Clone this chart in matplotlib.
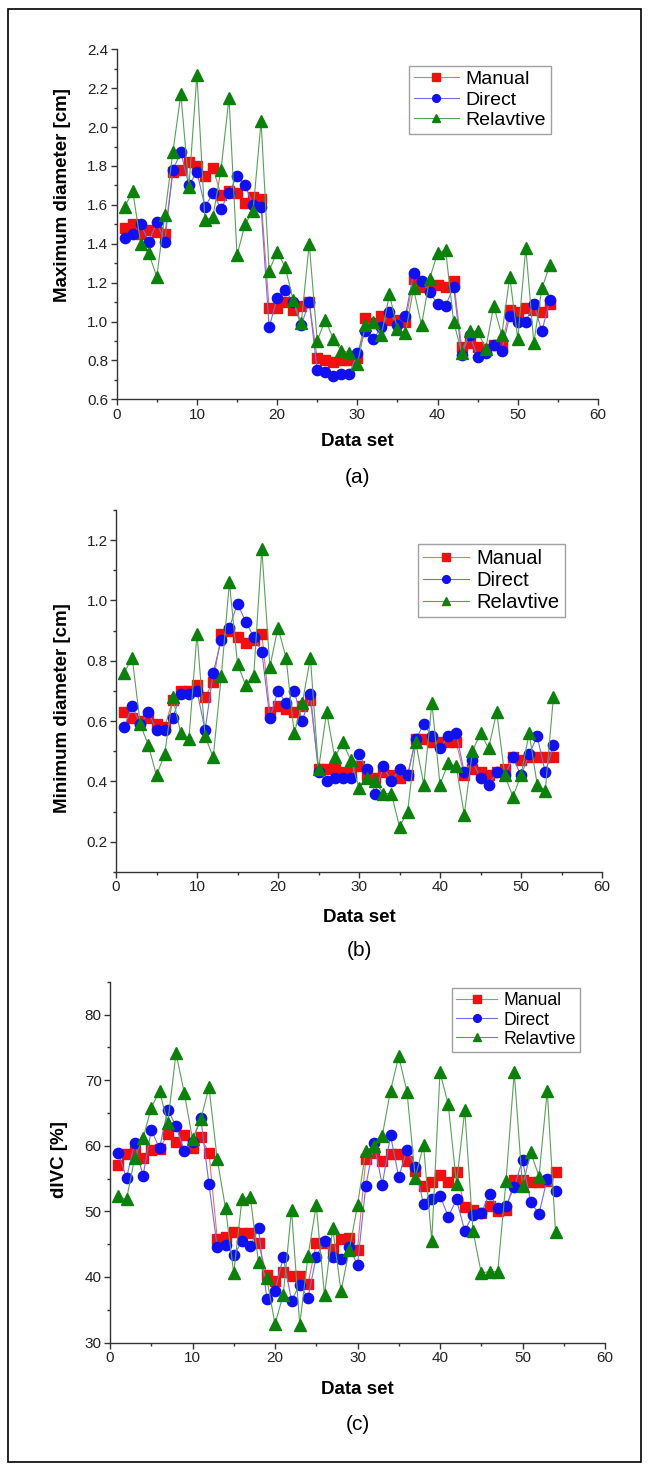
import matplotlib
matplotlib.use('Agg')
import matplotlib.pyplot as plt
from matplotlib.patches import Rectangle
from matplotlib.ticker import MultipleLocator

plt.rcParams['font.family'] = ['Liberation Sans', 'DejaVu Sans']

data_set = list(range(1, 55))

# (a) maximum diameter [cm]
max_manual = [1.48, 1.50, 1.45, 1.47, 1.46, 1.45, 1.77, 1.78, 1.82, 1.80,
              1.75, 1.79, 1.65, 1.67, 1.66, 1.61, 1.64, 1.63, 1.07, 1.07,
              1.10, 1.06, 1.08, 1.10, 0.81, 0.80, 0.79, 0.80, 0.80, 0.81,
              1.02, 0.99, 1.03, 1.01, 1.01, 1.00, 1.22, 1.18, 1.18, 1.19,
              1.18, 1.21, 0.87, 0.89, 0.87, 0.86, 0.88, 0.88, 1.06, 1.05,
              1.07, 1.06, 1.05, 1.09]
max_direct = [1.43, 1.45, 1.50, 1.41, 1.51, 1.41, 1.78, 1.87, 1.70, 1.77,
              1.59, 1.66, 1.58, 1.66, 1.75, 1.70, 1.60, 1.59, 0.97, 1.12,
              1.16, 1.10, 0.98, 1.10, 0.75, 0.74, 0.72, 0.73, 0.73, 0.84,
              0.95, 0.91, 0.97, 1.05, 0.98, 1.03, 1.25, 1.21, 1.15, 1.09,
              1.08, 1.18, 0.83, 0.93, 0.82, 0.84, 0.88, 0.85, 1.03, 1.00,
              1.00, 1.09, 0.95, 1.11]
max_relative = [1.59, 1.67, 1.40, 1.35, 1.23, 1.55, 1.87, 2.17, 1.69, 2.27,
                1.52, 1.54, 1.78, 2.15, 1.34, 1.50, 1.57, 2.03, 1.26, 1.36,
                1.28, 1.11, 0.99, 1.40, 0.90, 1.01, 0.91, 0.85, 0.84, 0.78,
                0.98, 1.00, 0.93, 1.14, 0.96, 0.94, 1.17, 0.98, 1.22, 1.35,
                1.37, 1.00, 0.84, 0.95, 0.95, 0.86, 1.08, 0.93, 1.23, 0.91,
                1.38, 0.89, 1.17, 1.29]

# (b) minimum diameter [cm]
min_manual = [0.63, 0.61, 0.60, 0.61, 0.59, 0.58, 0.67, 0.70, 0.70, 0.72,
              0.68, 0.73, 0.89, 0.90, 0.88, 0.86, 0.87, 0.89, 0.63, 0.65,
              0.64, 0.63, 0.65, 0.67, 0.44, 0.44, 0.44, 0.43, 0.43, 0.45,
              0.42, 0.41, 0.43, 0.42, 0.41, 0.42, 0.54, 0.54, 0.53, 0.53,
              0.53, 0.53, 0.42, 0.44, 0.43, 0.42, 0.43, 0.44, 0.48, 0.47,
              0.48, 0.48, 0.48, 0.48]
min_direct = [0.58, 0.65, 0.59, 0.63, 0.57, 0.57, 0.61, 0.69, 0.69, 0.70,
              0.57, 0.76, 0.87, 0.91, 0.99, 0.93, 0.88, 0.83, 0.61, 0.70,
              0.66, 0.70, 0.60, 0.69, 0.43, 0.40, 0.41, 0.41, 0.41, 0.49,
              0.44, 0.36, 0.45, 0.40, 0.44, 0.42, 0.54, 0.59, 0.55, 0.51,
              0.55, 0.56, 0.43, 0.47, 0.41, 0.39, 0.43, 0.42, 0.48, 0.42,
              0.49, 0.55, 0.43, 0.52]
min_relative = [0.76, 0.81, 0.59, 0.52, 0.42, 0.49, 0.68, 0.56, 0.54, 0.89,
                0.55, 0.48, 0.75, 1.06, 0.79, 0.72, 0.75, 1.17, 0.78, 0.91,
                0.81, 0.56, 0.66, 0.81, 0.44, 0.63, 0.48, 0.53, 0.47, 0.38,
                0.41, 0.40, 0.36, 0.36, 0.25, 0.30, 0.53, 0.39, 0.66, 0.39,
                0.46, 0.45, 0.29, 0.50, 0.56, 0.51, 0.63, 0.42, 0.35, 0.42,
                0.56, 0.39, 0.37, 0.68]

# (c) dIVC [%]
divc_manual = [57.0, 58.7, 59.2, 58.1, 59.4, 59.5, 61.8, 60.6, 61.6, 59.7,
               61.3, 58.9, 45.8, 46.1, 46.9, 46.7, 46.7, 45.1, 40.3, 39.4,
               40.8, 40.1, 40.2, 38.9, 45.1, 45.1, 44.2, 45.8, 45.9, 44.1,
               57.9, 58.9, 57.7, 58.8, 58.8, 57.7, 56.2, 53.9, 54.4, 55.6,
               54.4, 56.0, 50.6, 50.2, 49.7, 50.8, 50.0, 50.2, 54.7, 54.7,
               54.4, 54.4, 54.6, 56.0]
divc_direct = [58.9, 55.1, 60.4, 55.4, 62.4, 59.6, 65.5, 63.0, 59.2, 60.6,
               64.2, 54.1, 44.5, 44.8, 43.3, 45.4, 44.7, 47.4, 36.7, 37.9,
               43.0, 36.4, 38.8, 36.8, 43.1, 45.5, 43.1, 42.7, 44.6, 41.8,
               53.8, 60.4, 54.0, 61.6, 55.2, 59.4, 56.8, 51.1, 51.9, 52.4,
               49.2, 51.8, 47.0, 49.5, 49.7, 52.7, 50.5, 50.8, 53.7, 57.8,
               51.4, 49.6, 55.0, 53.1]
divc_relative = [52.3, 51.8, 58.2, 61.1, 65.8, 68.3, 63.5, 74.1, 68.1, 61.0,
                 64.0, 68.9, 57.9, 50.5, 40.6, 51.9, 52.2, 42.2, 39.8, 32.8,
                 37.3, 50.2, 32.7, 43.2, 50.9, 37.2, 47.4, 37.8, 44.1, 50.9,
                 59.2, 59.9, 61.5, 68.4, 73.6, 68.2, 55.1, 60.1, 45.5, 71.2,
                 66.3, 54.2, 65.4, 47.0, 40.6, 40.8, 40.8, 54.6, 71.2, 53.8,
                 59.0, 55.3, 68.4, 46.9]

W, H = 649, 1467
fig = plt.figure(figsize=(W / 100, H / 100), dpi=100)
fig.patches.append(Rectangle((8 / W, 1 - 1462 / H), 633 / W, 1453 / H,
                             transform=fig.transFigure, fill=False,
                             edgecolor='black', linewidth=1.2))


def panel(box, manual, direct, relative, ylim, ymaj, ymin, ylabel,
          ylab_xy, leg_xy, leg_fs, leg_sp, tag, tag_y, xlab_y):
    l, t, r, b = box
    ax = fig.add_axes([l / W, 1 - b / H, (r - l) / W, (b - t) / H])
    ax.plot(data_set, manual, '-s', color='#e87070', mfc='#f01010',
            mec='#f01010', ms=7.2, lw=0.8, label='Manual', zorder=3)
    ax.plot(data_set, direct, '-o', color='#7070e0', mfc='#1010f0',
            mec='#1010f0', ms=7.4, lw=0.8, label='Direct', zorder=4)
    ax.plot(data_set, relative, '-^', color='#5aa05a', mfc='#0b800b',
            mec='#0b800b', ms=8.2, lw=0.8, label='Relavtive', zorder=5)
    ax.set_xlim(0, 60)
    ax.set_ylim(*ylim)
    ax.xaxis.set_major_locator(MultipleLocator(10))
    ax.xaxis.set_minor_locator(MultipleLocator(5))
    ax.yaxis.set_major_locator(MultipleLocator(ymaj))
    ax.yaxis.set_minor_locator(MultipleLocator(ymin))
    if ymaj < 1:
        ax.yaxis.set_major_formatter(plt.FormatStrFormatter('%.1f'))
    for s in ['top', 'right']:
        ax.spines[s].set_visible(False)
    for s in ['left', 'bottom']:
        ax.spines[s].set_color('#333333')
        ax.spines[s].set_linewidth(1.0)
    ax.tick_params(which='major', direction='out', length=4, width=1,
                   color='#333333', labelsize=11, pad=2, labelcolor='#222222')
    ax.tick_params(which='minor', direction='out', length=2.5, width=1,
                   color='#333333')
    ax.set_xlabel('Data set', fontsize=13.5, fontweight='bold', va='center')
    ax.xaxis.set_label_coords(0.5, -(xlab_y - b) / (b - t))
    ax.set_ylabel(ylabel, fontsize=13.5, fontweight='bold', va='center')
    ax.yaxis.set_label_coords((ylab_xy[0] - l) / (r - l),
                              (b - ylab_xy[1]) / (b - t))
    leg = ax.legend(loc='upper left',
                    bbox_to_anchor=((leg_xy[0] - l) / (r - l),
                                    (b - leg_xy[1]) / (b - t)),
                    fontsize=leg_fs, frameon=True, fancybox=False,
                    edgecolor='#888888', borderpad=0.25, labelspacing=leg_sp,
                    handlelength=2.3, handletextpad=0.35, borderaxespad=0,
                    markerscale=0.75)
    leg.get_frame().set_linewidth(1.0)
    fig.text((l + r) / 2 / W, 1 - tag_y / H, tag, fontsize=15,
             ha='center', va='center')
    return ax


panel((116.7, 49.3, 598, 399.3), max_manual, max_direct, max_relative,
      (0.6, 2.4), 0.2, 0.1, 'Maximum diameter [cm]', (63, 195),
      (409, 65.7), 14, 0.15, '(a)', 478, 441)
panel((116, 510, 602, 872), min_manual, min_direct, min_relative,
      (0.1, 1.3), 0.2, 0.1, 'Minimum diameter [cm]', (63, 708),
      (418, 544), 14.5, 0.15, '(b)', 951, 917)
panel((110, 981.7, 605, 1342.5), divc_manual, divc_direct, divc_relative,
      (30, 85), 10, 5, 'dIVC [%]', (60, 1160),
      (452, 988), 12.7, 0.12, '(c)', 1425, 1390)

fig.savefig('out.png', dpi=100)
